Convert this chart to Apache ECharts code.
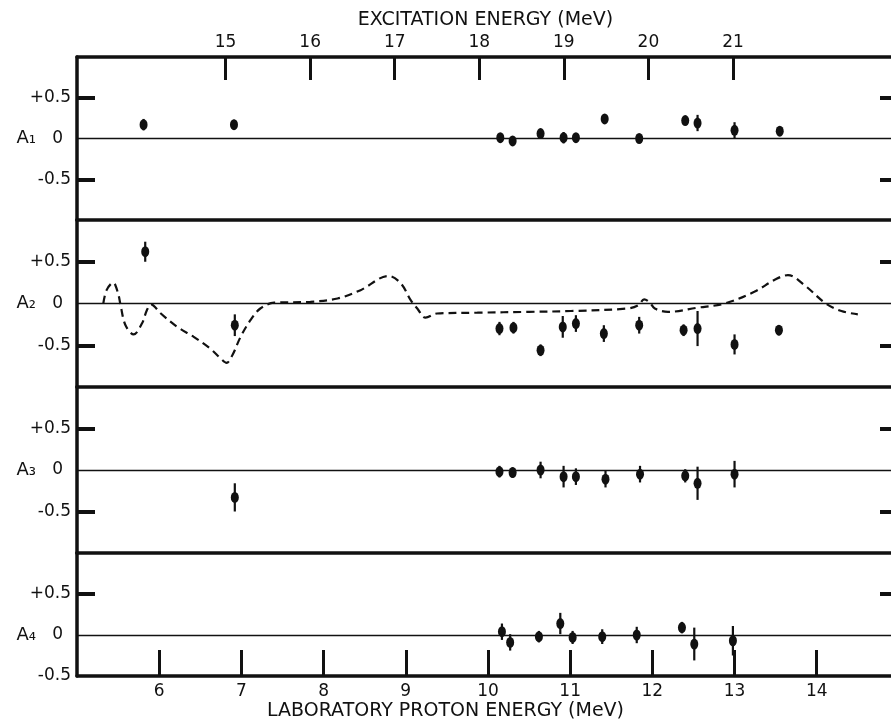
<!DOCTYPE html>
<html>
<head>
<meta charset="utf-8">
<script src="https://cdn.jsdelivr.net/npm/echarts@6/dist/echarts.min.js"></script>
<style>html,body{margin:0;padding:0;background:#fff}#c{width:891px;height:721px}</style>
</head>
<body>
<div id="c"></div>
<script>
// Laboratory proton energy axis (MeV)
const labMin = 5.0, labMax = 14.94;
const labTicks = [6, 7, 8, 9, 10, 11, 12, 13, 14];
// Excitation energy axis (MeV), linear with lab energy
const excMin = 13.243, excMax = 22.904;
const excTicks = [15, 16, 17, 18, 19, 20, 21];
const panelNames = ['A\u2081', 'A\u2082', 'A\u2083', 'A\u2084'];
const yTickLabels = [-0.5, 0, 0.5];

// Panel A1
const p1E = [5.81, 6.91, 10.15, 10.30, 10.64, 10.92, 11.07, 11.42, 11.84, 12.40, 12.55, 13.00, 13.55];
const p1A = [0.17, 0.17, 0.01, -0.03, 0.06, 0.01, 0.01, 0.24, 0.0, 0.22, 0.19, 0.10, 0.09];
const p1Err = [0.07, 0.06, 0.04, 0.03, 0.05, 0.07, 0.05, 0.05, 0.05, 0.05, 0.10, 0.10, 0.05];
// Panel A2
const p2E = [5.83, 6.92, 10.14, 10.31, 10.64, 10.91, 11.07, 11.41, 11.84, 12.38, 12.55, 13.00, 13.54];
const p2A = [0.62, -0.26, -0.30, -0.29, -0.56, -0.28, -0.24, -0.36, -0.26, -0.32, -0.30, -0.49, -0.32];
const p2Err = [0.12, 0.13, 0.08, 0.07, 0.07, 0.13, 0.10, 0.10, 0.10, 0.07, 0.21, 0.12, 0.06];
// Panel A2 dashed theoretical curve
const curveE = [5.32, 5.36, 5.44, 5.50, 5.53, 5.59, 5.69, 5.79, 5.85, 5.90, 6.02, 6.22, 6.42, 6.62, 6.75, 6.82, 6.89, 6.99, 7.11, 7.23, 7.40, 7.84, 8.17, 8.45, 8.79, 8.94, 9.06, 9.14, 9.24, 9.38, 9.87, 10.50, 11.01, 11.70, 11.83, 11.90, 11.97, 12.03, 12.19, 12.55, 12.88, 13.24, 13.50, 13.65, 13.85, 14.11, 14.30, 14.50];
const curveA = [0.0, 0.16, 0.25, 0.12, -0.02, -0.26, -0.37, -0.24, -0.08, -0.01, -0.12, -0.28, -0.40, -0.54, -0.66, -0.71, -0.62, -0.40, -0.20, -0.06, 0.01, 0.02, 0.06, 0.16, 0.33, 0.24, 0.04, -0.06, -0.17, -0.12, -0.11, -0.10, -0.09, -0.06, -0.02, 0.05, 0.01, -0.06, -0.10, -0.05, 0.0, 0.14, 0.29, 0.34, 0.22, 0.0, -0.09, -0.13];
// Panel A3
const p3E = [6.92, 10.14, 10.30, 10.64, 10.92, 11.07, 11.43, 11.85, 12.40, 12.55, 13.00];
const p3A = [-0.33, -0.02, -0.03, 0.0, -0.08, -0.08, -0.11, -0.05, -0.07, -0.16, -0.05];
const p3Err = [0.17, 0.07, 0.06, 0.10, 0.13, 0.10, 0.10, 0.10, 0.08, 0.20, 0.16];
// Panel A4
const p4E = [10.17, 10.27, 10.62, 10.88, 11.03, 11.39, 11.81, 12.36, 12.51, 12.98];
const p4A = [0.04, -0.09, -0.02, 0.14, -0.03, -0.02, 0.0, 0.09, -0.11, -0.07];
const p4Err = [0.10, 0.10, 0.07, 0.13, 0.08, 0.09, 0.10, 0.07, 0.20, 0.18];

const panels = [
  {E: p1E, A: p1A, err: p1Err, yMin: -1, yMax: 1, ticks: [-0.5, 0.5], nameShift: ''},
  {E: p2E, A: p2A, err: p2Err, yMin: -1, yMax: 1, ticks: [-0.5, 0.5], nameShift: ''},
  {E: p3E, A: p3A, err: p3Err, yMin: -1, yMax: 1, ticks: [-0.5, 0.5], nameShift: ''},
  {E: p4E, A: p4A, err: p4Err, yMin: -0.5, yMax: 1, ticks: [0.5], nameShift: '\n\n'}
];

const INK = '#111';
const FONT = 'DejaVu Sans';
const gridBoxes = [
  {top: 57, height: 163}, {top: 220, height: 167}, {top: 387, height: 166}, {top: 553, height: 123}
];

const grid = gridBoxes.map(g => ({left: 77, right: -3, top: g.top, height: g.height,
  containLabel: false, outerBoundsMode: 'none'}));
const xAxis = [];
const yAxis = [];
const series = [];

panels.forEach((p, i) => {
  const last = i === 3;
  xAxis.push({
    type: 'value', gridIndex: i, min: labMin, max: labMax, position: 'bottom',
    axisLine: {show: true, onZero: false, lineStyle: {color: INK, width: 3.5}},
    axisTick: {show: last, inside: true, length: 26, lineStyle: {color: INK, width: 3}, customValues: labTicks},
    axisLabel: {show: last, color: INK, fontFamily: FONT, fontSize: 17, margin: 7, customValues: labTicks},
    splitLine: {show: false},
    name: last ? 'LABORATORY PROTON ENERGY (MeV)' : '',
    nameLocation: 'middle', nameGap: 26, nameMoveOverlap: false,
    nameTextStyle: {color: INK, fontFamily: FONT, fontSize: 19, padding: [0, 80, 0, 0]}
  });
  yAxis.push({
    type: 'value', gridIndex: i, min: p.yMin, max: p.yMax, position: 'left',
    axisLine: {show: true, onZero: false, lineStyle: {color: INK, width: 3.5}},
    axisTick: {show: true, inside: true, length: 18, lineStyle: {color: INK, width: 4}, customValues: p.ticks},
    axisLabel: {show: true, color: INK, fontFamily: FONT, fontSize: 17, margin: 6,
      customValues: yTickLabels,
      formatter: v => v > 0 ? '+' + v : (v < 0 ? '-' + Math.abs(v) : '{z|0}'),
      rich: {z: {fontFamily: FONT, fontSize: 17, color: INK, padding: [0, 8, 0, 0]}}},
    splitLine: {show: false},
    name: p.nameShift + panelNames[i], nameLocation: 'middle', nameRotate: 0, nameGap: 41, nameMoveOverlap: false,
    nameTextStyle: {color: INK, fontFamily: FONT, fontSize: 18, lineHeight: 21, align: 'right', verticalAlign: 'middle'}
  });
});
panels.forEach((p, i) => {
  yAxis.push({
    type: 'value', gridIndex: i, min: p.yMin, max: p.yMax, position: 'right',
    axisLine: {show: false},
    axisTick: {show: true, inside: true, length: 14, lineStyle: {color: INK, width: 4}, customValues: p.ticks},
    axisLabel: {show: false},
    splitLine: {show: false}
  });
});
// top excitation axis
xAxis.push({
  type: 'value', gridIndex: 0, min: excMin, max: excMax, position: 'top',
  axisLine: {show: true, onZero: false, lineStyle: {color: INK, width: 3.5}},
  axisTick: {show: true, inside: true, length: 23, lineStyle: {color: INK, width: 3}, customValues: excTicks},
  axisLabel: {show: true, color: INK, fontFamily: FONT, fontSize: 17, margin: 6, customValues: excTicks},
  splitLine: {show: false},
  name: 'EXCITATION ENERGY (MeV)', nameLocation: 'middle', nameGap: 27, nameMoveOverlap: false,
  nameTextStyle: {color: INK, fontFamily: FONT, fontSize: 19}
});

panels.forEach((p, i) => {
  const pts = p.E.map((e, k) => [e, p.A[k], p.err[k]]);
  series.push({
    type: 'custom', xAxisIndex: i, yAxisIndex: i, silent: true,
    data: pts, encode: {x: 0, y: 1},
    renderItem: (params, api) => {
      const x = api.value(0), y = api.value(1), e = api.value(2);
      const a = api.coord([x, y - e]), b = api.coord([x, y + e]);
      return {type: 'line', shape: {x1: a[0], y1: a[1], x2: b[0], y2: b[1]},
        style: {stroke: INK, lineWidth: 2.2}};
    },
    z: 3
  });
  series.push({
    type: 'scatter', xAxisIndex: i, yAxisIndex: i, silent: true,
    data: pts.map(d => [d[0], d[1]]),
    symbol: 'circle', symbolSize: [8, 11],
    itemStyle: {color: INK, opacity: 1},
    z: 4,
    markLine: {
      silent: true, symbol: ['none', 'none'], label: {show: false},
      lineStyle: {color: INK, width: 1.4, type: 'solid'},
      data: [{yAxis: 0}]
    }
  });
});
series.push({
  type: 'line', xAxisIndex: 1, yAxisIndex: 1, silent: true,
  data: curveE.map((e, k) => [e, curveA[k]]),
  smooth: 0.35, showSymbol: false,
  lineStyle: {color: INK, width: 2.2, type: [8, 5]},
  z: 2
});

const chart = echarts.init(document.getElementById('c'), null, {renderer: 'canvas'});
chart.setOption({
  backgroundColor: '#fff',
  animation: false,
  grid, xAxis, yAxis, series
});
</script>
</body>
</html>
